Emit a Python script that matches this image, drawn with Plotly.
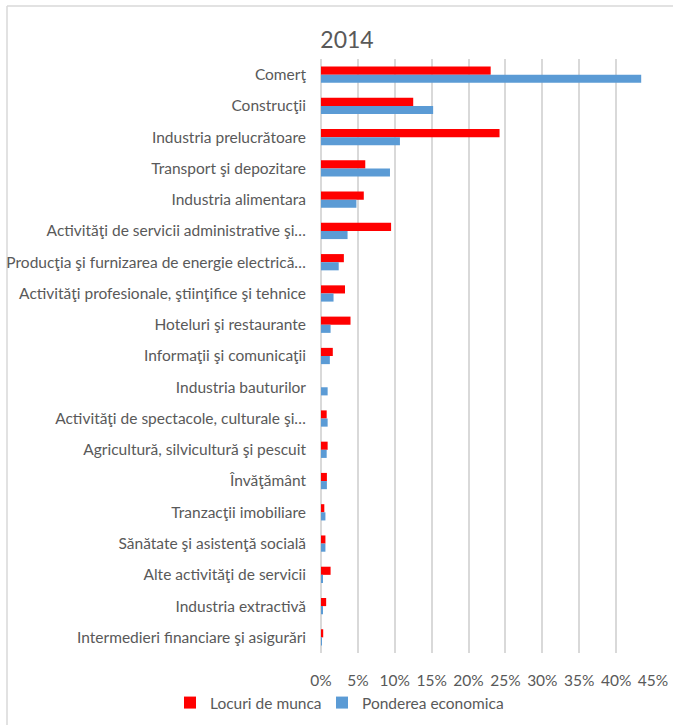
import plotly.graph_objects as go

categories = [
    "Comerţ",
    "Construcţii",
    "Industria prelucrătoare",
    "Transport şi depozitare",
    "Industria alimentara",
    "Activităţi de servicii administrative şi…",
    "Producţia şi furnizarea de energie electrică…",
    "Activităţi profesionale, ştiinţifice şi tehnice",
    "Hoteluri şi restaurante",
    "Informaţii şi comunicaţii",
    "Industria bauturilor",
    "Activităţi de spectacole, culturale şi…",
    "Agricultură, silvicultură şi pescuit",
    "Învăţământ",
    "Tranzacţii imobiliare",
    "Sănătate şi asistenţă socială",
    "Alte activităţi de servicii",
    "Industria extractivă",
    "Intermedieri financiare şi asigurări",
]

locuri_de_munca = [23.0, 12.5, 24.2, 6.0, 5.8, 9.5, 3.1, 3.25, 4.0, 1.6, 0.0,
                   0.77, 0.9, 0.8, 0.45, 0.6, 1.3, 0.7, 0.3]
ponderea_economica = [43.4, 15.2, 10.7, 9.35, 4.8, 3.6, 2.4, 1.7, 1.3, 1.2, 0.9,
                      0.9, 0.77, 0.8, 0.6, 0.6, 0.27, 0.2, 0.05]

tick_values = [0, 5, 10, 15, 20, 25, 30, 35, 40, 45]
tick_labels = ["0%", "5%", "10%", "15%", "20%", "25%", "30%", "35%", "40%", "45%"]

FONT = "Lato"
GREY = "#595959"
FS = 15.5

fig = go.Figure()
fig.add_trace(go.Bar(
    y=categories, x=locuri_de_munca, orientation="h",
    name="Locuri de munca", marker=dict(color="#FF0000", line=dict(width=0)),
    legend="legend", showlegend=True,
))
fig.add_trace(go.Bar(
    y=categories, x=ponderea_economica, orientation="h",
    name="Ponderea economica", marker=dict(color="#5B9BD5", line=dict(width=0)),
    legend="legend2", showlegend=True,
))

legend_common = dict(orientation="h", xref="container", yref="container",
                     xanchor="left", yanchor="middle", visible=True,
                     font=dict(size=FS, color=GREY), itemwidth=30,
                     bgcolor="rgba(0,0,0,0)")

border = dict(color="#D9D9D9", width=1.5)
top_y = (653 - 6) / 594
left_x = (7 - 321) / 332

fig.update_layout(
    width=673, height=725, showlegend=True,
    paper_bgcolor="white", plot_bgcolor="white",
    margin=dict(l=321, r=20, t=59, b=72),
    barmode="group", bargap=0.48, bargroupgap=0,
    font=dict(family=FONT, color=GREY, size=FS),
    title=dict(text="2014", x=347/673, xref="container", xanchor="center",
               y=1 - 40/725, yref="container", yanchor="middle",
               font=dict(family=FONT, size=23, color=GREY)),
    xaxis=dict(range=[0, 45], tickvals=tick_values, ticktext=tick_labels,
               showgrid=True, gridcolor="#D9D9D9", gridwidth=1.8,
               zeroline=True, zerolinecolor="#D9D9D9", zerolinewidth=1.8,
               showline=False, ticks="", tickfont=dict(size=FS, color=GREY),
               ticklabelstandoff=16, automargin=False, fixedrange=True),
    yaxis=dict(autorange="reversed", showgrid=False, ticks="",
               ticklabelstandoff=14, tickfont=dict(size=FS, color=GREY),
               showline=False, automargin=False, fixedrange=True),
    legend=dict(x=170/673, y=1 - 703/725, **legend_common),
    legend2=dict(x=322/673, y=1 - 703/725, **legend_common),
    shapes=[
        dict(type="line", xref="paper", yref="paper",
             x0=left_x, x1=1.1, y0=top_y, y1=top_y, line=border, layer="below"),
        dict(type="line", xref="paper", yref="paper",
             x0=left_x, x1=left_x, y0=top_y, y1=-0.2, line=border, layer="below"),
    ],
)

fig.write_html("out.html", config={"displayModeBar": False},
               post_script="document.body.style.margin='0';document.body.style.overflow='hidden';")
